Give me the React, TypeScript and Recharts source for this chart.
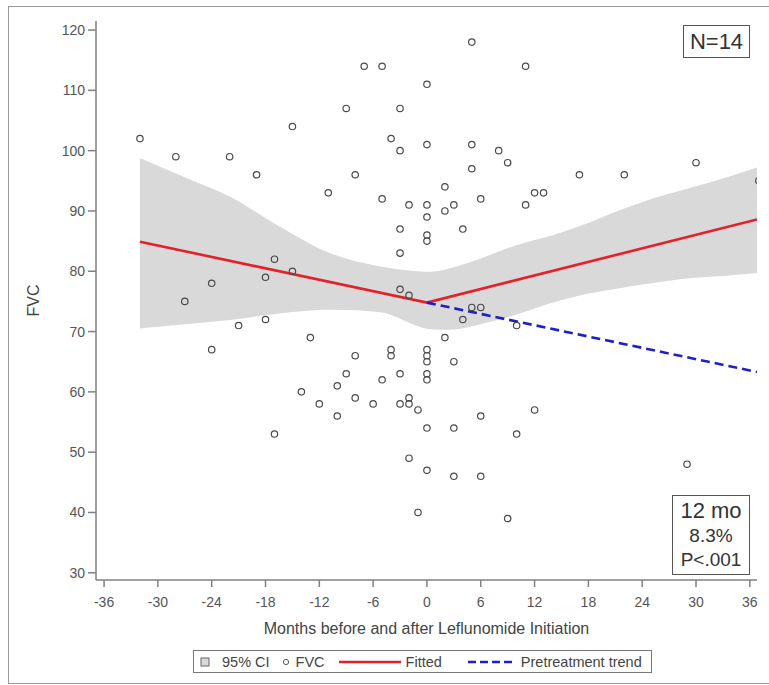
import React from "react";
import {
  Area,
  ComposedChart,
  Label,
  Line,
  Scatter,
  XAxis,
  YAxis,
} from "recharts";

// FVC observations, months relative to leflunomide start (N=14 patients).
const fvcMonths = [
  -32, -28, -22, -19, 5, -7, -5, 0, -9, -3, -15, -4, -3, 0, 5, 8, 9, -8, -11, -5,
  5, 2, -2, 0, 0, 3, 2, 6, -3, 0, 0, 4, 11, 17, 22, 30, 12, 13, 11, 37,
  -24, -27, -21, -24, -3, -17, -15, -18, -3, -2, 5, 6, 4, -18, 2, -13, -4, -4, 0, 0,
  0, -8, 3, -9, -3, 0, 0, -5, -10, -14, -12, -8, -6, -3, -2, -2, -1, -10, 0, 3,
  6, -17, -2, 0, 3, 6, 10, 12, 10, 29, -1, 9,
];
const fvcValues = [
  102, 99, 99, 96, 118, 114, 114, 111, 107, 107, 104, 102, 100, 101, 101, 100, 98, 96, 93, 92,
  97, 94, 91, 91, 89, 91, 90, 92, 87, 86, 85, 87, 114, 96, 96, 98, 93, 93, 91, 95,
  78, 75, 71, 67, 83, 82, 80, 79, 77, 76, 74, 74, 72, 72, 69, 69, 67, 66, 67, 66,
  65, 66, 65, 63, 63, 63, 62, 62, 61, 60, 58, 59, 58, 58, 59, 58, 57, 56, 54, 54,
  56, 53, 49, 47, 46, 46, 71, 57, 53, 48, 40, 39,
];

// 95% confidence band around the fitted curve
const bandMonths = [-32, -27, -22, -16.4, -10.8, -5.2, -1, 0.3, 2.6, 6.5, 9.3, 14.1, 18, 21.5, 25, 29, 33, 36.8];
const bandLower = [70.5, 71.2, 71.9, 73, 73.6, 73.2, 70.9, 70.4, 70.3, 71.4, 72.5, 74.8, 76.3, 77.2, 78, 78.8, 79.2, 79.7];
const bandUpper = [98.8, 95.6, 92.4, 87.4, 83, 80.8, 80, 79.9, 80.5, 82.4, 84, 86, 88, 90.1, 92, 93.7, 95.4, 97.2];

const fittedMonths = [-32, 0, 36.8];
const fittedValues = [84.9, 74.8, 88.6];

const trendMonths = [0, 36.8];
const trendValues = [74.8, 63.3];

const xTicks = [-36, -30, -24, -18, -12, -6, 0, 6, 12, 18, 24, 30, 36];
const yTicks = [30, 40, 50, 60, 70, 80, 90, 100, 110, 120];

const FONT = "'Liberation Sans', Arial, sans-serif";
const AXIS = "#808080";
const TICK_TEXT = "#555";
const RED = "#e4202b";
const BLUE = "#1f1fc8";
const BAND = "#d9d9d9";

type Row = { x: number; band?: [number, number]; fitted?: number; trend?: number };

function buildRows(): Row[] {
  const map = new Map<number, Row>();
  const get = (x: number) => {
    if (!map.has(x)) map.set(x, { x });
    return map.get(x)!;
  };
  bandMonths.forEach((x, i) => (get(x).band = [bandLower[i], bandUpper[i]]));
  fittedMonths.forEach((x, i) => (get(x).fitted = fittedValues[i]));
  trendMonths.forEach((x, i) => (get(x).trend = trendValues[i]));
  return Array.from(map.values()).sort((a, b) => a.x - b.x);
}

const rows = buildRows();
const scatterData = fvcMonths.map((x, i) => ({ x, y: fvcValues[i] }));

const OpenCircle = (props: any) => (
  <circle cx={props.cx} cy={props.cy} r={3.2} fill="none" stroke="#4a4a4a" strokeWidth={1.2} />
);

function LegendBox() {
  const item: React.CSSProperties = { display: "flex", alignItems: "center" };
  return (
    <div
      style={{
        position: "absolute",
        left: 193,
        top: 650,
        width: 459,
        height: 23,
        border: "1px solid #777",
        display: "flex",
        alignItems: "center",
        fontFamily: FONT,
        fontSize: 14.5,
        color: "#444",
        boxSizing: "border-box",
        whiteSpace: "nowrap",
      }}
    >
      <span style={{ ...item, marginLeft: 6 }}>
        <svg width={10} height={10}>
          <rect x={1} y={1} width={8} height={8} fill={BAND} stroke="#666" strokeWidth={1} />
        </svg>
        <span style={{ marginLeft: 12 }}>95% CI</span>
      </span>
      <span style={{ ...item, marginLeft: 12 }}>
        <svg width={8} height={8}>
          <circle cx={4} cy={4} r={2.6} fill="none" stroke="#555" strokeWidth={1} />
        </svg>
        <span style={{ marginLeft: 6 }}>FVC</span>
      </span>
      <span style={{ ...item, marginLeft: 14 }}>
        <svg width={62} height={6}>
          <line x1={0} y1={3} x2={62} y2={3} stroke={RED} strokeWidth={2.5} />
        </svg>
        <span style={{ marginLeft: 5 }}>Fitted</span>
      </span>
      <span style={{ ...item, marginLeft: 26 }}>
        <svg width={46} height={6}>
          <line x1={0} y1={3} x2={46} y2={3} stroke={BLUE} strokeWidth={2.5} strokeDasharray="8 4" />
        </svg>
        <span style={{ marginLeft: 7 }}>Pretreatment trend</span>
      </span>
    </div>
  );
}

const boxStyle: React.CSSProperties = {
  position: "absolute",
  border: "1px solid #555",
  background: "#fff",
  fontFamily: FONT,
  color: "#333",
  textAlign: "center",
  boxSizing: "border-box",
};

export default function App() {
  return (
    <div style={{ position: "absolute", left: 0, top: 0, width: 769, height: 685, background: "#fff", overflow: "hidden" }}>
      <div
        style={{
          position: "absolute",
          left: 8,
          top: 6,
          width: 765,
          height: 678,
          border: "1px solid #999",
          boxSizing: "border-box",
        }}
      />
      <ComposedChart
        width={769}
        height={685}
        data={rows}
        margin={{ top: 21, right: 12, left: 36, bottom: 49 }}
        style={{ position: "absolute", left: 0, top: 0, fontFamily: FONT }}
      >
        <XAxis
          type="number"
          dataKey="x"
          domain={[-36.9, 36.8]}
          ticks={xTicks}
          allowDataOverflow
          height={56}
          stroke={AXIS}
          strokeWidth={1.5}
          tickSize={7}
          tickMargin={10}
          tick={{ fill: TICK_TEXT, fontSize: 14 }}
        >
          <Label
            value="Months before and after Leflunomide Initiation"
            position="insideBottom"
            offset={2}
            style={{ fill: "#444", fontSize: 16 }}
          />
        </XAxis>
        <XAxis
          xAxisId="top"
          orientation="top"
          type="number"
          domain={[-36.9, 36.8]}
          height={0}
          tick={false}
          tickLine={false}
          stroke={AXIS}
          strokeWidth={1.5}
        />
        <YAxis
          type="number"
          dataKey="y"
          domain={[28.8, 121.5]}
          ticks={yTicks}
          allowDataOverflow
          width={60}
          stroke={AXIS}
          strokeWidth={1.5}
          tickSize={8}
          tickMargin={3}
          tick={{ fill: TICK_TEXT, fontSize: 14 }}
        >
          <Label
            value="FVC"
            angle={-90}
            position="insideLeft"
            offset={-3}
            style={{ fill: "#444", fontSize: 16, textAnchor: "middle" }}
          />
        </YAxis>
        <YAxis
          yAxisId="right"
          orientation="right"
          type="number"
          domain={[28.8, 121.5]}
          width={0}
          tick={false}
          tickLine={false}
          stroke={AXIS}
          strokeWidth={1.5}
        />
        <Area
          type="monotone"
          dataKey="band"
          fill={BAND}
          fillOpacity={1}
          stroke="none"
          connectNulls
          isAnimationActive={false}
        />
        <Scatter data={scatterData} shape={OpenCircle} isAnimationActive={false} />
        <Line
          type="linear"
          dataKey="fitted"
          stroke={RED}
          strokeWidth={2.6}
          dot={false}
          connectNulls
          isAnimationActive={false}
        />
        <Line
          type="linear"
          dataKey="trend"
          stroke={BLUE}
          strokeWidth={2.6}
          strokeDasharray="9 5"
          dot={false}
          connectNulls
          isAnimationActive={false}
        />
      </ComposedChart>
      <div style={{ ...boxStyle, left: 683, top: 25, width: 67, height: 33, fontSize: 22, lineHeight: "31px" }}>N=14</div>
      <div style={{ ...boxStyle, left: 672, top: 495, width: 78, height: 80, paddingTop: 2 }}>
        <div style={{ fontSize: 22, lineHeight: "26px" }}>12 mo</div>
        <div style={{ fontSize: 19, lineHeight: "24px" }}>8.3%</div>
        <div style={{ fontSize: 19, lineHeight: "24px" }}>P&lt;.001</div>
      </div>
      <LegendBox />
    </div>
  );
}
